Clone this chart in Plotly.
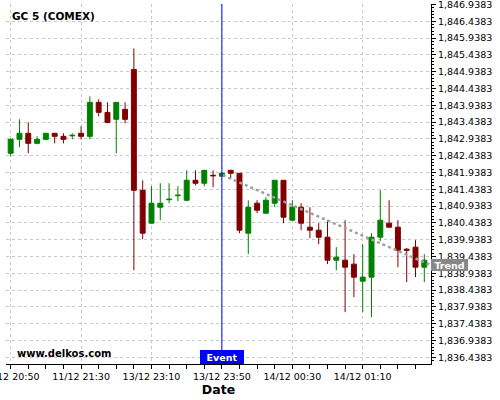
import plotly.graph_objects as go

# ---- data ----
times = (
    ["11/12 20:50", "11/12 20:55", "11/12 21:00", "11/12 21:05", "11/12 21:10",
     "11/12 21:15", "11/12 21:20", "11/12 21:25", "11/12 21:30", "11/12 21:35",
     "11/12 21:40", "11/12 21:45", "11/12 21:50", "11/12 21:55",
     "13/12 23:00", "13/12 23:05", "13/12 23:10", "13/12 23:15", "13/12 23:20",
     "13/12 23:25", "13/12 23:30", "13/12 23:35", "13/12 23:40", "13/12 23:45",
     "13/12 23:50", "13/12 23:55", "14/12 00:00", "14/12 00:05", "14/12 00:10",
     "14/12 00:15", "14/12 00:20", "14/12 00:25", "14/12 00:30", "14/12 00:35",
     "14/12 00:40", "14/12 00:45", "14/12 00:50", "14/12 00:55", "14/12 01:00",
     "14/12 01:05", "14/12 01:10", "14/12 01:15", "14/12 01:20", "14/12 01:25",
     "14/12 01:30", "14/12 01:35", "14/12 01:40", "14/12 01:45"]
)
open_ = [1842.508, 1842.924, 1843.103, 1842.805, 1842.924, 1843.103, 1843.013, 1843.028,
         1843.103, 1843.013, 1844.024, 1843.726, 1843.519, 1843.816,
         1845.004, 1841.409, 1840.429, 1840.904, 1841.127, 1841.246, 1841.112, 1841.706,
         1841.617, 1841.855, 1841.825, 1842.003, 1841.914, 1840.132, 1841.023, 1840.726,
         1841.023, 1841.706, 1840.518, 1840.904, 1840.310, 1840.221, 1840.013, 1839.329,
         1839.329, 1839.211, 1838.705, 1838.824, 1840.013, 1840.429, 1840.310, 1839.656,
         1839.716, 1839.121]
high = [1842.954, 1843.519, 1843.429, 1843.013, 1843.103, 1843.103, 1843.103, 1843.103,
        1843.311, 1844.202, 1844.113, 1844.024, 1844.024, 1844.024,
        1845.628, 1841.706, 1841.528, 1841.617, 1841.617, 1841.528, 1842.003, 1842.003,
        1842.003, 1842.003, 1841.944, 1842.003, 1841.914, 1841.112, 1841.112, 1841.201,
        1841.706, 1841.706, 1841.112, 1841.023, 1840.904, 1840.429, 1840.518, 1839.716,
        1840.518, 1839.508, 1839.805, 1840.132, 1841.409, 1841.112, 1840.518, 1839.686,
        1839.924, 1839.508]
low = [1842.419, 1842.687, 1842.508, 1842.776, 1842.895, 1842.805, 1842.805, 1842.924,
       1842.924, 1842.924, 1843.608, 1843.400, 1842.508, 1843.400,
       1839.032, 1839.953, 1840.420, 1840.518, 1841.023, 1841.082, 1841.082, 1841.558,
       1841.528, 1841.498, 1841.825, 1841.766, 1840.132, 1839.508, 1840.726, 1840.726,
       1840.904, 1840.429, 1840.518, 1840.221, 1839.983, 1839.805, 1839.211, 1839.032,
       1837.784, 1838.230, 1837.784, 1837.636, 1839.894, 1840.310, 1839.121, 1838.676,
       1838.824, 1838.676]
close = [1842.924, 1843.103, 1842.805, 1842.924, 1843.103, 1843.013, 1842.924, 1843.043,
         1843.013, 1844.024, 1843.726, 1843.429, 1844.024, 1843.519,
         1841.409, 1840.132, 1841.023, 1841.023, 1841.142, 1841.261, 1841.706, 1841.617,
         1842.003, 1841.840, 1841.914, 1841.914, 1840.221, 1840.904, 1840.815, 1841.112,
         1841.706, 1840.607, 1840.904, 1840.429, 1840.221, 1840.013, 1839.329, 1839.419,
         1839.121, 1838.824, 1838.824, 1840.013, 1840.518, 1840.310, 1839.626, 1839.626,
         1839.121, 1839.329]

x_tick_labels = ["11/12 20:50", "11/12 21:30", "13/12 23:10", "13/12 23:50",
                 "14/12 00:30", "14/12 01:10"]
y_tick_values = [1836.4383 + 0.5 * k for k in range(22)]

event_time = "13/12 23:50"
trend_x = [24.1, 47.76]
trend_y = [1841.855, 1839.18]

title_text = "GC 5 (COMEX)"
source_text = "www.delkos.com"

# ---- figure ----
idx = list(range(len(times)))
FONT = "DejaVu Sans"

fig = go.Figure()
fig.add_trace(go.Candlestick(
    x=idx, open=open_, high=high, low=low, close=close,
    increasing=dict(line=dict(color="#008000", width=1), fillcolor="#008000"),
    decreasing=dict(line=dict(color="#800000", width=1), fillcolor="#800000"),
    whiskerwidth=0, hoverinfo="skip", showlegend=False,
))
fig.add_trace(go.Scatter(
    x=trend_x, y=trend_y, mode="lines",
    line=dict(color="#a0a0a0", width=2.5, dash="dot"),
    hoverinfo="skip", showlegend=False,
))

event_i = times.index(event_time)
fig.add_shape(type="line", x0=event_i, x1=event_i, xref="x", yref="paper",
              y0=0, y1=1, line=dict(color="#0000ff", width=1))

tickvals_x = [times.index(t) for t in x_tick_labels]

fig.update_layout(
    template="none",
    width=500, height=400,
    margin=dict(l=6, r=69, t=3.5, b=36, autoexpand=False),
    paper_bgcolor="white", plot_bgcolor="white",
    font=dict(family=FONT, size=9.5, color="black"),
    boxgap=0.2,
    showlegend=False,
    xaxis=dict(
        range=[-0.53, 47.76],
        rangeslider=dict(visible=False),
        tickmode="array", tickvals=tickvals_x, ticktext=x_tick_labels,
        ticks="outside", ticklen=4, tickcolor="black", tickwidth=1,
        ticklabeloverflow="allow",
        showline=True, linecolor="black", linewidth=1,
        showgrid=True, gridcolor="#c8c8c8", griddash="3px,3px", gridwidth=1,
        zeroline=False, automargin=False,
        minor=dict(tickmode="array", tickvals=list(range(0, 48, 2)),
                   ticks="outside", ticklen=4, tickcolor="black", showgrid=False),
        title=dict(text="<b>Date</b>", font=dict(family=FONT, size=12.5), standoff=3),
        tickfont=dict(family=FONT, size=9.5),
    ),
    yaxis=dict(
        side="right",
        range=[1836.24, 1846.95],
        tickmode="array", tickvals=y_tick_values,
        ticktext=[f"{v:,.4f}" for v in y_tick_values],
        ticks="outside", ticklen=4, tickcolor="black", tickwidth=1,
        ticklabeloverflow="allow",
        showline=True, linecolor="black", linewidth=1,
        showgrid=True, gridcolor="#c8c8c8", griddash="3px,3px", gridwidth=1,
        zeroline=False, automargin=False,
        minor=dict(tickmode="linear", tick0=1836.4383, dtick=0.1,
                   ticks="outside", ticklen=2, tickcolor="black", showgrid=False),
        tickfont=dict(family=FONT, size=9.5),
    ),
    annotations=[
        dict(text=f"<b>{title_text}</b>", xref="paper", yref="paper",
             x=0.0094, y=0.967, xanchor="left", yanchor="middle", showarrow=False,
             font=dict(family=FONT, size=10.5, color="black")),
        dict(text=f"<b>{source_text}</b>", xref="paper", yref="paper",
             x=0.021, y=0.03, xanchor="left", yanchor="middle", showarrow=False,
             font=dict(family=FONT, size=10, color="black")),
        dict(text="<b>Event</b>", xref="x", yref="paper", x=event_i, y=0,
             xanchor="center", yanchor="bottom", showarrow=False,
             bgcolor="#0000ff", width=42, height=12, borderpad=1, borderwidth=0,
             font=dict(family=FONT, size=9.5, color="white")),
        dict(text="<b>Trend</b>", xref="paper", yref="y", x=1, y=trend_y[-1],
             xanchor="left", yanchor="middle", showarrow=False,
             bgcolor="#888888", width=35, height=10, borderpad=1, borderwidth=0,
             font=dict(family=FONT, size=9.5, color="white")),
    ],
)

fig.write_html("out.html", config={"displayModeBar": False},
               post_script="document.body.style.margin='0';")
